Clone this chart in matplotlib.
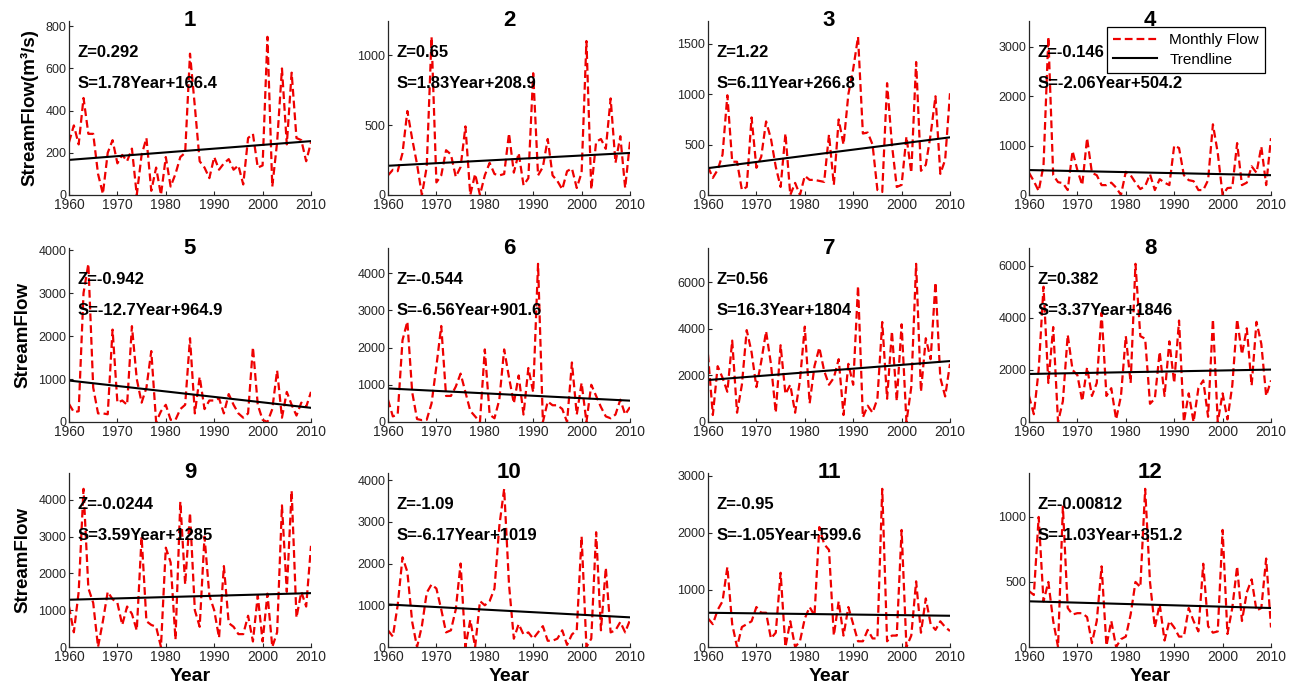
import matplotlib
matplotlib.use('Agg')
import matplotlib.pyplot as plt
import numpy as np

plt.rcParams['font.family'] = ['Liberation Sans', 'DejaVu Sans']
plt.rcParams.update({'font.size': 9})

years = list(range(1960, 2011))

# annual flow per panel, 1960..2010
flow_1 = [250, 330, 240, 460, 290, 290, 100, 5, 200, 260, 150, 190, 160, 220, 0, 190, 270, 20, 130, 0,
          180, 40, 100, 180, 200, 670, 420, 160, 130, 80, 180, 120, 150, 170, 120, 140, 50, 270, 290, 130,
          140, 750, 40, 250, 600, 240, 580, 270, 260, 160, 250]
flow_2 = [140, 180, 170, 300, 600, 400, 220, 0, 200, 1130, 90, 140, 320, 290, 130, 200, 490, 0, 150, 0,
          140, 230, 150, 140, 150, 440, 160, 300, 70, 120, 870, 140, 200, 400, 140, 100, 40, 170, 190, 50,
          160, 1100, 40, 380, 400, 330, 690, 230, 420, 50, 380]
flow_3 = [280, 170, 250, 400, 990, 330, 330, 50, 80, 770, 270, 380, 730, 560, 280, 80, 610, 0, 120, 0,
          190, 150, 150, 140, 130, 600, 100, 750, 500, 1000, 1250, 1570, 610, 620, 500, 50, 30, 1110, 500, 80,
          100, 580, 220, 1320, 240, 300, 600, 980, 210, 350, 1010]
flow_4 = [450, 280, 80, 600, 3200, 400, 260, 240, 100, 890, 500, 200, 1150, 450, 400, 200, 200, 250, 150, 0,
          470, 400, 250, 120, 180, 420, 100, 320, 250, 200, 1000, 950, 400, 300, 280, 100, 100, 300, 1430, 850,
          0, 140, 150, 1050, 200, 250, 580, 450, 980, 200, 1150]
flow_5 = [420, 230, 250, 3000, 3680, 800, 200, 200, 180, 2150, 450, 500, 400, 2230, 1000, 450, 800, 1650, 0, 250,
          400, 50, 50, 300, 400, 1950, 200, 1050, 300, 500, 500, 550, 200, 650, 400, 200, 100, 200, 1740, 400,
          50, 0, 300, 1200, 100, 700, 400, 150, 450, 350, 700]
flow_6 = [600, 150, 200, 2200, 2700, 800, 80, 50, 60, 500, 1500, 2580, 700, 700, 950, 1300, 800, 300, 150, 0,
          1950, 200, 100, 600, 1950, 1200, 500, 1250, 200, 1450, 800, 4250, 0, 550, 450, 450, 350, 0, 1600, 200,
          1050, 0, 1000, 700, 400, 150, 100, 200, 600, 200, 400]
flow_7 = [2900, 300, 2400, 1900, 1300, 3500, 400, 1600, 3950, 3000, 1500, 2600, 3900, 2500, 400, 3300, 1200, 1600, 400, 1800,
          4100, 800, 2400, 3200, 2200, 1600, 1900, 2700, 300, 2500, 1600, 5850, 200, 700, 400, 1000, 4300, 1000, 3900, 900,
          4200, 0, 1500, 6800, 1300, 3600, 2700, 6000, 1900, 1100, 2500]
flow_8 = [1000, 300, 2000, 5200, 1500, 3650, 0, 800, 3350, 2000, 1800, 800, 2100, 1000, 1500, 4200, 1000, 1300, 100, 1000,
          3300, 1500, 6080, 3300, 3200, 700, 900, 2700, 1000, 3100, 1500, 3900, 0, 1100, 0, 1300, 1600, 200, 3950, 0,
          1100, 100, 1400, 3950, 2600, 3600, 1400, 3850, 3000, 1000, 1600]
flow_9 = [1100, 400, 1500, 4300, 1600, 1200, 0, 700, 1500, 1300, 1200, 600, 1100, 900, 450, 3000, 700, 600, 550, 0,
          2700, 2300, 200, 3950, 1700, 3650, 1000, 550, 3000, 1400, 1000, 250, 2200, 650, 550, 350, 350, 850, 150, 1400,
          150, 1450, 0, 400, 3850, 1500, 4250, 800, 1500, 1100, 2750]
flow_10 = [400, 250, 1000, 2150, 1800, 600, 0, 500, 1300, 1500, 1400, 900, 350, 400, 900, 2000, 0, 650, 0, 1100,
           1000, 1100, 1400, 2900, 3790, 1500, 200, 550, 300, 350, 200, 350, 500, 150, 150, 200, 400, 50, 300, 400,
           2650, 0, 200, 2750, 400, 1900, 350, 400, 600, 350, 650]
flow_11 = [500, 400, 650, 800, 1400, 400, 0, 350, 400, 450, 700, 600, 600, 150, 250, 1300, 0, 450, 0, 100,
           500, 700, 550, 2100, 1800, 1700, 200, 800, 200, 700, 400, 100, 100, 300, 150, 150, 2770, 100, 200, 200,
           2050, 0, 200, 1150, 250, 850, 400, 300, 450, 350, 280]
flow_12 = [430, 400, 1000, 350, 500, 200, 0, 1080, 300, 250, 260, 260, 230, 30, 200, 620, 10, 200, 0, 60,
           80, 250, 500, 460, 1216, 500, 150, 330, 50, 200, 150, 80, 80, 300, 200, 120, 640, 160, 110, 120,
           900, 100, 300, 620, 200, 420, 520, 280, 300, 680, 150]

flows = [flow_1, flow_2, flow_3, flow_4, flow_5, flow_6,
         flow_7, flow_8, flow_9, flow_10, flow_11, flow_12]

z_values = [0.292, 0.65, 1.22, -0.146, -0.942, -0.544, 0.56, 0.382, -0.0244, -1.09, -0.95, -0.00812]
slopes = [1.78, 1.83, 6.11, -2.06, -12.7, -6.56, 16.3, 3.37, 3.59, -6.17, -1.05, -1.03]
intercepts = [166.4, 208.9, 266.8, 504.2, 964.9, 901.6, 1804, 1846, 1285, 1019, 599.6, 351.2]

y_ticks = [[0, 200, 400, 600, 800], [0, 500, 1000], [0, 500, 1000, 1500], [0, 1000, 2000, 3000],
           [0, 1000, 2000, 3000, 4000], [0, 1000, 2000, 3000, 4000], [0, 2000, 4000, 6000], [0, 2000, 4000, 6000],
           [0, 1000, 2000, 3000, 4000], [0, 1000, 2000, 3000, 4000], [0, 1000, 2000, 3000], [0, 500, 1000]]

ylabels = {0: 'StreamFlow(m\u00b3/s)', 4: 'StreamFlow', 8: 'StreamFlow'}

W, H = 1291, 689
fig = plt.figure(figsize=(W / 100, H / 100), dpi=100)

col_left = [69, 388, 708, 1029]
row_bottom = [195, 422, 647]
ax_w, ax_h = 242, 174
dark = '#262626'

yr = np.array(years)
for i in range(12):
    r, c = divmod(i, 4)
    ax = fig.add_axes([col_left[c] / W, 1 - row_bottom[r] / H, ax_w / W, ax_h / H])
    vals = flows[i]
    ax.plot(yr, vals, color='#ee0000', linestyle='--', lw=1.6, dashes=(3.5, 1.8), label='Monthly Flow')
    trend = slopes[i] * (yr - 1960) + intercepts[i]
    ax.plot(yr, trend, color='black', lw=1.5, label='Trendline')

    ax.set_xlim(1960, 2010)
    ax.set_ylim(0, max(vals) * 1.1)
    ax.set_xticks([1960, 1970, 1980, 1990, 2000, 2010])
    ax.set_yticks(y_ticks[i])
    ax.tick_params(direction='in', length=3, colors=dark, pad=2)
    ax.tick_params(axis='x', labelsize=10)
    ax.tick_params(axis='y', labelsize=9)
    for s in ['top', 'right']:
        ax.spines[s].set_visible(False)
    for s in ['left', 'bottom']:
        ax.spines[s].set_color(dark)
        ax.spines[s].set_linewidth(0.9)

    ax.text(0.5, 1.0, str(i + 1), transform=ax.transAxes, ha='center', va='center',
            fontsize=16, fontweight='bold')
    ax.text(0.037, 0.82, f'Z={z_values[i]:.3g}', transform=ax.transAxes, ha='left', va='center',
            fontsize=12, fontweight='bold')
    ax.text(0.037, 0.64, f'S={slopes[i]:.3g}Year+{intercepts[i]:.4g}', transform=ax.transAxes,
            ha='left', va='center', fontsize=12, fontweight='bold')

    if i in ylabels:
        ax.set_ylabel(ylabels[i], fontsize=13.5, fontweight='bold', labelpad=5)
    if r == 2:
        ax.set_xlabel('Year', fontsize=14, fontweight='bold', labelpad=3)
    if i == 3:
        leg = ax.legend(loc='upper right', fontsize=11, fancybox=False, edgecolor='black',
                        framealpha=1, borderaxespad=0.4, handlelength=2.9, borderpad=0.4,
                        labelspacing=0.35)
        leg.get_frame().set_linewidth(0.9)

fig.savefig('out.png', dpi=100)
